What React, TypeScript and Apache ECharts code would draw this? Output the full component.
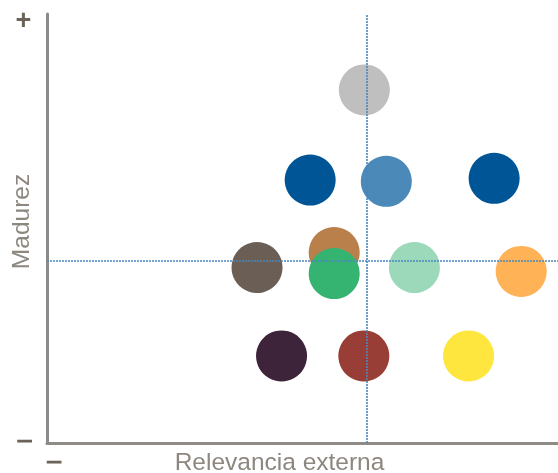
import React, { useEffect, useRef } from "react";
import * as echarts from "echarts";

const xAxisName = "Relevancia externa";
const yAxisName = "Madurez";

const bubbleNames = [
  "gris", "azul1", "azul medio", "azul2", "marrón", "gris oscuro",
  "verde", "verde claro", "naranja", "morado", "rojo", "amarillo",
];
const relevancia = [6.21, 5.15, 6.64, 8.75, 5.62, 4.11, 5.62, 7.19, 9.28, 4.59, 6.2, 8.25];
const madurez = [8.23, 6.13, 6.1, 6.17, 4.44, 4.09, 3.95, 4.09, 4.0, 2.03, 2.03, 2.03];
const bubbleColors = [
  "#bfbfbf", "#005596", "#4a89b8", "#005596", "#b9804c", "#6b5f55",
  "#35b371", "#9cd9bb", "#ffb256", "#3d243a", "#983e36", "#ffe63f",
];
const refX = 6.26;
const refY = 4.24;

export default function App() {
  const ref = useRef<HTMLDivElement>(null);
  useEffect(() => {
    const chart = echarts.init(ref.current!, null, { renderer: "svg" });
    const axisColor = "#8e8a85";
    const font = "'Liberation Sans', Arial, Helvetica, sans-serif";
    const signStyle = {
      fontSize: 22,
      fill: "#6b625a",
      fontFamily: font,
      fontWeight: "bold",
      align: "center",
      verticalAlign: "middle",
    };
    const minusStyle = {
      ...signStyle,
      text: "−",
      fontSize: 18,
      stroke: "#6b625a",
      lineWidth: 0.8,
    };
    chart.setOption({
      animation: false,
      grid: { left: 47, right: 0, top: 14, bottom: 30, outerBoundsMode: "none", containLabel: false },
      xAxis: {
        type: "value",
        min: 0,
        max: 10,
        name: xAxisName,
        nameLocation: "middle",
        nameGap: 7,
        nameTextStyle: {
          color: "#8e8780",
          fontSize: 24.5,
          fontFamily: font,
          lineHeight: 22,
          padding: [0, 46, 0, 0],
        },
        axisLine: { show: true, onZero: false, lineStyle: { color: axisColor, width: 3 } },
        axisTick: { show: false },
        axisLabel: { show: false },
        splitLine: { show: false },
      },
      yAxis: {
        type: "value",
        min: 0,
        max: 10,
        name: yAxisName,
        nameLocation: "middle",
        nameRotate: 90,
        nameGap: 14,
        nameTextStyle: {
          color: "#8e8780",
          fontSize: 24.5,
          fontFamily: font,
          padding: [0, 0, 0, 14],
        },
        axisLine: { show: true, onZero: false, lineStyle: { color: axisColor, width: 3 } },
        axisTick: { show: false },
        axisLabel: { show: false },
        splitLine: { show: false },
      },
      graphic: [
        { type: "text", x: 23.5, y: 20, style: { ...signStyle, text: "+", fontSize: 27 } },
        { type: "text", x: 24.5, y: 441, scaleX: 1.5, style: minusStyle },
        { type: "text", x: 54, y: 462, scaleX: 1.5, style: minusStyle },
      ],
      series: [
        {
          type: "scatter",
          symbolSize: 51,
          data: relevancia.map((x, i) => ({
            name: bubbleNames[i],
            value: [x, madurez[i]],
            itemStyle: { color: bubbleColors[i], opacity: 1 },
          })),
          z: 2,
        },
        {
          type: "line",
          data: [],
          z: 5,
          markLine: {
            silent: true,
            symbol: "none",
            label: { show: false },
            lineStyle: { color: "#4a86bf", type: [2, 1], width: 1.6 },
            data: [{ xAxis: refX }, { yAxis: refY }],
          },
        },
      ],
    });
    return () => chart.dispose();
  }, []);
  return (
    <div
      ref={ref}
      style={{ position: "fixed", left: 0, top: 0, width: 558, height: 473 }}
    />
  );
}
